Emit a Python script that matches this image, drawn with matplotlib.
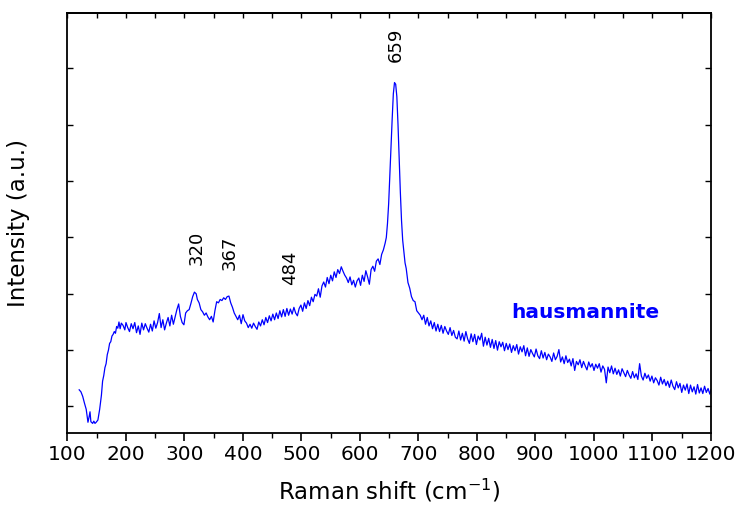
import matplotlib
matplotlib.use("Agg")
import matplotlib.pyplot as plt
from matplotlib.ticker import MultipleLocator, NullFormatter

plt.rcParams['font.family'] = ['DejaVu Sans']
plt.rcParams['mathtext.fontset'] = 'dejavusans'

raman_shift = [
    120, 123, 126, 129, 132, 135, 137, 138.5, 140, 143,
    145, 147, 149, 152, 155, 158, 160, 162, 164, 166,
    168, 170, 172, 174, 176, 178, 180, 182, 184, 186,
    188, 190, 192, 195, 198, 200, 203, 206, 209, 212,
    215, 218, 221, 224, 227, 230, 233, 236, 239, 242,
    245, 248, 251, 254, 257, 260, 263, 266, 269, 272,
    275, 278, 281, 284, 287, 290, 293, 296, 299, 302,
    305, 308, 311, 314, 317, 320, 322, 325, 328, 331,
    334, 337, 340, 343, 346, 349, 352, 355, 358, 361,
    364, 367, 370, 373, 376, 379, 382, 385, 388, 391,
    394, 397, 400, 403, 406, 409, 412, 415, 418, 421,
    424, 427, 430, 433, 436, 439, 442, 445, 448, 451,
    454, 457, 460, 463, 466, 469, 472, 475, 478, 481,
    484, 487, 490, 493, 496, 499, 502, 505, 508, 511,
    514, 517, 520, 523, 526, 529, 532, 535, 538, 541,
    544, 547, 550, 553, 556, 559, 562, 565, 568, 571,
    574, 577, 580, 583, 586, 589, 592, 595, 598, 601,
    604, 607, 610, 613, 616, 619, 622, 625, 628, 631,
    634, 637, 640, 643, 645, 647, 649, 651, 653, 655,
    657, 659, 661, 663, 665, 667, 669, 671, 673, 675,
    677, 679, 682, 685, 688, 691, 694, 697, 700, 703,
    706, 709, 712, 715, 718, 721, 724, 727, 730, 733,
    736, 739, 742, 745, 748, 751, 754, 757, 760, 763,
    766, 769, 772, 775, 778, 781, 784, 787, 790, 793,
    796, 799, 802, 805, 808, 811, 814, 817, 820, 823,
    826, 829, 832, 835, 838, 841, 844, 847, 850, 853,
    856, 859, 862, 865, 868, 871, 874, 877, 880, 883,
    886, 889, 892, 895, 898, 901, 904, 907, 910, 913,
    916, 919, 922, 925, 928, 931, 934, 937, 940, 943,
    946, 949, 952, 955, 958, 961, 964, 967, 970, 973,
    976, 979, 982, 985, 988, 991, 994, 997, 1000, 1003,
    1006, 1009, 1012, 1015, 1018, 1021, 1024, 1027, 1030, 1033,
    1036, 1039, 1042, 1045, 1048, 1051, 1054, 1057, 1060, 1063,
    1066, 1069, 1072, 1075, 1078, 1081, 1084, 1087, 1090, 1093,
    1096, 1099, 1102, 1105, 1108, 1111, 1114, 1117, 1120, 1123,
    1126, 1129, 1132, 1135, 1138, 1141, 1144, 1147, 1150, 1153,
    1156, 1159, 1162, 1165, 1168, 1171, 1174, 1177, 1180, 1183,
    1186, 1189, 1192, 1195, 1198, 1200,
]

intensity = [
    1296, 1260, 1180, 1060, 950, 720, 820, 906, 730, 700,
    740, 700, 720, 760, 950, 1200, 1450, 1550, 1690, 1760,
    1920, 2000, 2120, 2150, 2250, 2280, 2330, 2300, 2420, 2390,
    2500, 2380, 2480, 2440, 2360, 2490, 2400, 2330, 2470, 2380,
    2490, 2310, 2430, 2280, 2480, 2360, 2470, 2390, 2320, 2460,
    2340, 2520, 2390, 2490, 2650, 2400, 2540, 2360, 2480, 2580,
    2430, 2620, 2460, 2590, 2720, 2820, 2600, 2490, 2450, 2660,
    2700, 2720, 2830, 2950, 3030, 3000, 2900, 2840, 2720, 2680,
    2620, 2660, 2590, 2540, 2600, 2500, 2700, 2860, 2840, 2900,
    2880, 2930, 2900, 2950, 2960, 2840, 2760, 2660, 2600, 2540,
    2620, 2470, 2630, 2520, 2480, 2400, 2460, 2390, 2480, 2420,
    2370, 2500, 2430, 2540, 2450, 2580, 2490, 2610, 2520, 2640,
    2540, 2660, 2560, 2700, 2590, 2720, 2600, 2740, 2620, 2730,
    2640, 2760, 2660, 2610, 2740, 2800, 2690, 2840, 2740, 2880,
    2790, 2940, 2860, 2990, 2960, 3090, 2940, 3140, 3210, 3120,
    3290, 3180, 3330, 3230, 3390, 3290, 3430, 3360, 3480, 3400,
    3330, 3280, 3200, 3300, 3160, 3240, 3120, 3230, 3280, 3150,
    3330, 3220, 3410, 3300, 3170, 3430, 3490, 3400, 3580, 3620,
    3520, 3700, 3780, 3900, 4000, 4250, 4600, 5100, 5600, 6100,
    6550, 6750, 6720, 6500, 6000, 5400, 4800, 4300, 3950, 3750,
    3550, 3450, 3200, 3100, 2950, 2880, 2860, 2700, 2660, 2620,
    2540, 2620, 2460, 2580, 2430, 2520, 2380, 2490, 2340, 2460,
    2330, 2440, 2300, 2420, 2340, 2280, 2400, 2260, 2350, 2230,
    2200, 2340, 2180, 2300, 2160, 2330, 2200, 2120, 2290, 2150,
    2280, 2100, 2250, 2180, 2300, 2070, 2230, 2090, 2210, 2050,
    2190, 2030, 2170, 2000, 2150, 2060, 2140, 1990, 2120, 2010,
    2110, 1960, 2080, 1990, 2100, 1930, 2060, 1970, 2080, 1900,
    2040, 1890, 2010, 1940, 1880, 2020, 1900, 1850, 1990, 1860,
    1960, 1830, 1930, 1880, 1800, 1950, 1830, 1890, 2010, 1790,
    1880, 1760, 1900, 1780, 1840, 1720, 1850, 1640, 1800, 1740,
    1830, 1690, 1800, 1720, 1650, 1790, 1700, 1760, 1640, 1750,
    1680, 1760, 1610, 1720, 1660, 1420, 1700, 1600, 1720, 1580,
    1680, 1570, 1650, 1540, 1670, 1600, 1530, 1640, 1560, 1500,
    1620, 1510, 1580, 1480, 1760, 1540, 1470, 1590, 1500, 1560,
    1450, 1540, 1420, 1510, 1460, 1380, 1520, 1400, 1480, 1370,
    1450, 1340, 1470, 1360, 1300, 1440, 1330, 1410, 1250, 1380,
    1290, 1400, 1230, 1380, 1260, 1350, 1220, 1390, 1240, 1330,
    1230, 1360, 1250, 1320, 1220, 1300,
]

peak_labels = ["320", "367", "484", "659"]
peak_x = [321, 378, 480, 661]
peak_y = [3823, 3725, 3468, 7422]

x_ticks = list(range(100, 1201, 100))

fig = plt.figure(figsize=(7.4, 5.16), dpi=100)
ax = fig.add_axes([0.0912, 0.1609, 0.8696, 0.8145])

ax.plot(raman_shift, intensity, color='#0000FF', lw=0.9)

ax.set_xlim(100, 1200)
ax.set_ylim(530, 7990)
ax.set_xticks(x_ticks)
ax.xaxis.set_minor_locator(MultipleLocator(50))
ax.yaxis.set_major_locator(MultipleLocator(1000))
ax.yaxis.set_major_formatter(NullFormatter())

for s in ax.spines.values():
    s.set_linewidth(1.3)

ax.tick_params(axis='x', which='major', direction='out', length=6, width=1.2,
               labelsize=14.5, pad=3, top=False)
ax.tick_params(axis='x', which='minor', direction='out', length=3.5, width=1.0, top=False)
ax.tick_params(axis='y', which='major', direction='in', length=4, width=1.0,
               left=True, right=True, labelleft=False)

# top axis inward ticks
sec = ax.secondary_xaxis('top')
sec.set_xticks(x_ticks)
sec.xaxis.set_minor_locator(MultipleLocator(50))
sec.tick_params(axis='x', which='both', direction='in', length=3.5, width=1.0, labeltop=False)
sec.spines['top'].set_linewidth(1.3)

ax.set_xlabel('Raman shift (cm$^{-1}$)', fontsize=16.5)
ax.set_ylabel('Intensity (a.u.)', fontsize=16.5)
ax.xaxis.set_label_coords(0.5, -0.105)
ax.yaxis.set_label_coords(-0.058, 0.5)

for lab, px, py in zip(peak_labels, peak_x, peak_y):
    ax.text(px, py, lab, rotation=90, ha='center', va='center', fontsize=13)

ax.text(985, 2677, 'hausmannite', color='#0000FF', fontsize=14.5, fontweight='bold',
        ha='center', va='center')

fig.savefig('out.png', dpi=100)
